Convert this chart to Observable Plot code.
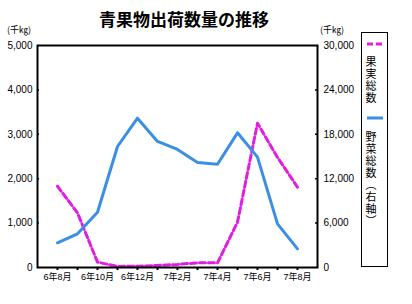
<!DOCTYPE html>
<html>
<head>
<meta charset="utf-8">
<script src="https://cdn.jsdelivr.net/npm/d3@7"></script>
<script src="https://cdn.jsdelivr.net/npm/@observablehq/plot@0.6"></script>
<style>
  html, body { margin: 0; padding: 0; background: #fff; }
  #wrap { position: relative; width: 412px; height: 304px; background: #fff; overflow: hidden;
          font-family: "Liberation Sans", "Noto Sans CJK JP", sans-serif; color: #000; }
  #chart { position: absolute; left: 0; top: 0; }
  .abs { position: absolute; white-space: nowrap; }
  #title { left: 0; top: 10px; width: 368px; text-align: center; font: bold 17px "Noto Sans CJK JP", sans-serif; line-height: 1; }
  .unit { font: 9px "Noto Sans CJK JP", sans-serif; line-height: 1; top: 25px; }
  #legend { left: 361px; top: 32px; width: 25px; height: 233px; border: 1px solid #000; }
  .vt { writing-mode: vertical-rl; font: 11px "Noto Sans CJK JP", sans-serif; line-height: 12px; letter-spacing: 1px; }
</style>
</head>
<body>
<div id="wrap">
  <div id="chart"></div>
  <div id="title" class="abs">青果物出荷数量の推移</div>
  <div class="abs unit" style="left:7px">(千㎏)</div>
  <div class="abs unit" style="left:320px">(千㎏)</div>
  <div id="legend" class="abs">
    <svg class="abs" style="left:5px;top:9px" width="16" height="4"><line x1="0" y1="2" x2="16" y2="2" stroke="#e01ee0" stroke-width="3" stroke-dasharray="6,3"/></svg>
    <div class="abs vt" style="left:3px;top:23px">果実総数</div>
    <svg class="abs" style="left:5px;top:83px" width="16" height="4"><line x1="0" y1="2" x2="16" y2="2" stroke="#3b8fe3" stroke-width="3"/></svg>
    <div class="abs vt" style="left:3px;top:98px">野菜総数（右軸）</div>
  </div>
</div>
<script>
const months = ["6年8月","6年9月","6年10月","6年11月","6年12月","7年1月","7年2月","7年3月","7年4月","7年5月","7年6月","7年7月","7年8月"];
// 果実総数 (千kg, left axis)
const fruit = [1830, 1230, 120, 25, 30, 45, 70, 105, 105, 1020, 3250, 2480, 1810];
// 野菜総数 (千kg, right axis)
const veg = [3340, 4550, 7470, 16350, 20180, 17030, 15950, 14190, 13960, 18200, 14910, 5900, 2520];
const leftTicks = [0, 1000, 2000, 3000, 4000, 5000];
const ratio = 30000 / 5000;

const data = months.map((m, i) => ({ m, fruit: fruit[i], veg: veg[i], vegScaled: veg[i] / ratio }));
const fmt = d3.format(",");

const chart = Plot.plot({
  width: 412,
  height: 304,
  marginLeft: 37,
  marginRight: 95,
  marginTop: 45,
  marginBottom: 37,
  style: { fontFamily: "'Liberation Sans', 'Noto Sans CJK JP', sans-serif", color: "#000", background: "transparent" },
  x: { type: "point", domain: months, padding: 0.82 },
  y: { domain: [0, 5000] },
  marks: [
    Plot.axisY({ ticks: leftTicks, tickSize: 0, tickPadding: 5, tickFormat: fmt, fontSize: 10, label: null }),
    Plot.axisY({ anchor: "right", ticks: leftTicks, tickSize: 0, tickPadding: 6, tickFormat: d => fmt(d * ratio), fontSize: 10, label: null }),
    Plot.axisX({ ticks: months, tickSize: 3, tickPadding: 3, strokeWidth: 2, fontSize: 9, label: null,
                 tickFormat: d => months.indexOf(d) % 2 === 0 ? d : "" }),
    Plot.tickY([1000, 2000, 3000, 4000], { y: d => d, insetRight: 278, stroke: "#000", strokeWidth: 1.5 }),
    Plot.tickY([1000, 2000, 3000, 4000], { y: d => d, insetLeft: 278, stroke: "#000", strokeWidth: 1.5 }),
    Plot.line(data, { x: "m", y: "fruit", stroke: "#e01ee0", strokeWidth: 3, strokeDasharray: "6,3" }),
    Plot.line(data, { x: "m", y: "vegScaled", stroke: "#3b8fe3", strokeWidth: 3 }),
    Plot.frame({ stroke: "#000", strokeWidth: 2 })
  ]
});
document.getElementById("chart").appendChild(chart);
</script>
</body>
</html>
